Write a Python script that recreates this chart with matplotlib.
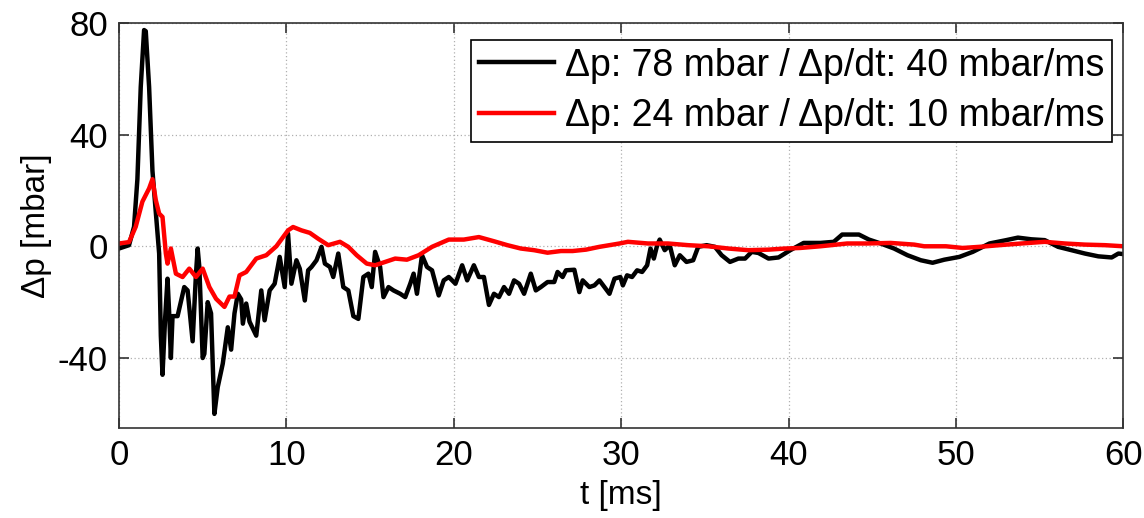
import numpy as np
import matplotlib.pyplot as plt

plt.rcParams['font.family'] = ['Liberation Sans', 'DejaVu Sans']
plt.rcParams['axes.unicode_minus'] = False

# black trace: dp 78 mbar
t_black = [0, 0.6, 0.9, 1.1, 1.3, 1.5, 1.6, 1.8, 2.0, 2.2, 2.4, 2.5, 2.6, 2.75, 2.9,
           3.0, 3.1, 3.2, 3.5, 3.9, 4.1, 4.4, 4.6, 4.7, 4.8, 5.0, 5.1, 5.3, 5.5, 5.7,
           5.9, 6.2, 6.5, 6.7, 6.9, 7.1, 7.3, 7.4, 7.6, 7.8, 8.2, 8.5, 8.7, 9.0, 9.3,
           9.6, 9.9, 10.1, 10.3, 10.6, 10.8, 11.1, 11.3, 11.5, 11.8, 12.1, 12.3, 12.6,
           12.8, 13.1, 13.4, 13.7, 14.0, 14.3, 14.6, 14.9, 15.1, 15.3, 15.6, 15.8,
           16.1, 16.4, 16.8, 17.1, 17.4, 17.6, 17.8, 18.1, 18.4, 18.7, 19.1, 19.4,
           19.7, 20.1, 20.5, 20.8, 21.2, 21.5, 21.8, 22.1, 22.4, 22.7, 23.0, 23.3,
           23.6, 23.9, 24.2, 24.6, 24.9, 25.2, 25.6, 26.0, 26.2, 26.5, 26.7, 27.2,
           27.5, 27.7, 28.1, 28.4, 28.7, 29.0, 29.3, 29.6, 29.95, 30.1, 30.35, 30.65,
           30.95, 31.25, 31.55, 31.75, 31.95, 32.15, 32.3, 32.6, 32.9, 33.2, 33.5,
           33.9, 34.3, 34.6, 35.1, 35.6, 36.0, 36.5, 37.0, 37.4, 37.8, 38.2, 38.8,
           39.4, 40.1, 40.9, 41.9, 42.7, 43.2, 44.2, 44.8, 45.5, 46.3, 47.1, 47.9,
           48.6, 49.3, 50.2, 51.0, 52.0, 53.0, 53.7, 54.5, 55.3, 56.1, 56.9, 57.7,
           58.5, 59.3, 59.7, 60]
p_black = [-0.8, 0.4, 7, 24, 57, 77.4, 77, 57, 27, 12, -2.6, -32, -46, -26.5, -11.6,
           -24, -40, -25, -25, -14.6, -15.8, -34, -9.8, -0.8, -7.4, -40, -38.5, -20,
           -24, -60, -50.4, -42, -29, -37, -24, -17, -19, -27.7, -20.5, -27, -32,
           -15.8, -26.5, -15.8, -13.4, -3.8, -14.6, 4.5, -13.4, -5, -8, -19.4, -8.6,
           -7.4, -5, -0.2, -6.2, -7.4, -11, -2.6, -14.6, -15.8, -25, -26, -11, -9.8,
           -14.6, -2, -7.4, -18.2, -14.6, -15.8, -17, -18.2, -13.4, -9.8, -17, -3.2,
           -7.4, -8.6, -17.6, -12.2, -11, -13.4, -6.8, -12.2, -6.8, -11, -11, -21,
           -17, -18.2, -14.6, -17, -12.2, -13.4, -17, -9.8, -15.8, -14.6, -12.8,
           -12.8, -9.2, -11, -8.6, -8.4, -16.4, -12.2, -14.6, -14, -12.2, -14.6,
           -17, -11.6, -11, -14, -10.4, -11, -8.6, -9.2, -6.8, -0.8, -4.4, 0.4, 2.4,
           -1.4, 0.4, -6.8, -3.2, -5.6, -5, -0.2, 0.4, -0.2, -3.2, -5.6, -4.4, -4.4,
           -2, -2.4, -4.4, -4, -1.4, 1.2, 1.2, 1.6, 4.2, 4.2, 2.4, 1, -0.8, -3.2,
           -5, -5.9, -4.8, -3.8, -2, 1, 2.2, 3.1, 2.5, 2.2, -0.2, -1.4, -2.6, -3.6,
           -4, -2.6, -2.8]

# red trace: dp 24 mbar
t_red = [0, 0.6, 1.0, 1.4, 1.8, 2.0, 2.2, 2.4, 2.6, 2.8, 2.9, 3.1, 3.4, 3.8, 4.2,
         4.6, 5.0, 5.4, 5.8, 6.3, 6.6, 6.9, 7.2, 7.6, 8.2, 8.8, 9.4, 10.1, 10.4,
         10.9, 11.4, 11.9, 12.5, 13.2, 13.7, 14.2, 14.8, 15.3, 15.9, 16.5, 17.2,
         17.9, 18.7, 19.7, 20.6, 21.5, 22.4, 23.2, 24.0, 24.8, 25.6, 26.4, 27.1,
         27.9, 28.7, 29.9, 30.4, 31.6, 32.8, 34.0, 35.2, 36.4, 37.6, 38.8, 39.8,
         40.7, 41.9, 43.5, 44.7, 46.1, 47.5, 48.1, 49.4, 50.4, 51.4, 52.6, 53.9,
         55.3, 56.5, 57.7, 58.9, 60]
p_red = [1, 1.5, 7, 16, 20.7, 24, 16.5, 11.7, 10.5, -2.6, -6.2, -0.8, -9.8, -11, -8,
         -11, -8, -14.6, -18.8, -21.7, -18, -18, -10.4, -9.2, -4.4, -3.2, 0, 5.7,
         6.9, 5.7, 4.8, 2.7, 0.4, 1.6, -0.2, -3.2, -6.2, -6.8, -5.6, -4.4, -4.8,
         -3.2, -0.2, 2.4, 2.4, 3.3, 1.8, 0.4, -0.8, -1.4, -2.3, -1.7, -1.7, -1.2,
         -0.2, 1, 1.6, 1, 1, 0.4, 0, -0.8, -1.4, -1.2, -0.8, -0.6, 0, 1, 1, 1.2,
         0.6, 0, 0, -0.6, -0.2, 0.4, 1, 1.6, 1, 0.6, 0.4, 0]

labels = ['Δp: 78 mbar / Δp/dt: 40 mbar/ms',
          'Δp: 24 mbar / Δp/dt: 10 mbar/ms']

fig = plt.figure(figsize=(11.44, 5.18), dpi=100)
ax = fig.add_axes([0.104, 0.174, 0.878, 0.782])

ax.plot(t_black, p_black, color='black', lw=3.2, label=labels[0])
ax.plot(t_red, p_red, color='#ff0000', lw=3.2, label=labels[1])

ax.set_xlim(0, 60)
ax.set_ylim(-65, 80)
ax.set_xticks(np.arange(0, 61, 10))
ax.set_yticks([-40, 0, 40, 80])
ax.grid(True, linestyle=(0, (1, 2)), color='#b0b0b0', lw=0.9)
ax.tick_params(direction='in', top=True, right=True, length=7, width=1.2,
               labelsize=25, pad=8, color='#333333')
for s in ax.spines.values():
    s.set_color('#333333')
    s.set_linewidth(1.2)

ax.set_xlabel('t [ms]', fontsize=24, labelpad=6)
ax.set_ylabel('Δp [mbar]', fontsize=24, labelpad=4)

leg = ax.legend(loc='upper right', fontsize=27, fancybox=False, framealpha=1,
                edgecolor='black', handlelength=2.0, handletextpad=0.3,
                borderpad=0.2, labelspacing=0.4, borderaxespad=0,
                bbox_to_anchor=(1112 / 1144, 1 - 40 / 518),
                bbox_transform=fig.transFigure)
leg.get_frame().set_linewidth(1.2)

fig.savefig('out.png', dpi=100)
